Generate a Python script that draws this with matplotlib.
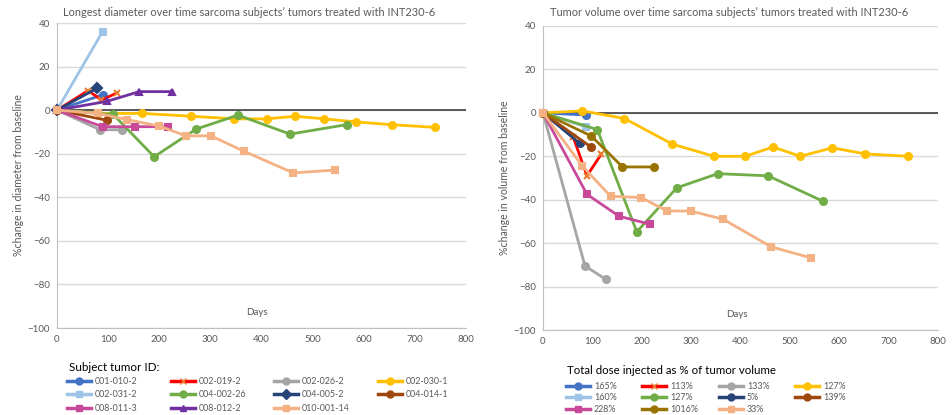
import matplotlib
matplotlib.use("Agg")
import matplotlib.pyplot as plt
from matplotlib.lines import Line2D

plt.rcParams['font.family'] = ['Lato', 'DejaVu Sans']

# Linker Plot: Durchmesser
subject_ids = ['001-010-2', '002-019-2', '002-026-2', '002-030-1', '002-031-2', '004-002-26',
               '004-005-2', '004-014-1', '008-011-3', '008-012-2', '010-001-14']
diam_days = [
    [0, 89],
    [0, 61, 87, 118],
    [0, 84, 127],
    [0, 81, 167, 262, 347, 410, 466, 523, 584, 655, 740],
    [0, 89],
    [0, 110, 190, 272, 354, 456, 568],
    [0, 78],
    [0, 97],
    [0, 89, 153, 217],
    [0, 97, 161, 224],
    [0, 81, 136, 200, 252, 301, 365, 462, 544],
]
diam_change = [
    [0, 7],
    [0, 9, 4.6, 8],
    [0, -9, -9],
    [0, -1.5, -1.5, -2.8, -4, -4, -2.8, -4, -5.4, -6.7, -7.9],
    [0, 36],
    [0, -2, -21.4, -8.7, -2.3, -11, -6.6],
    [0, 10],
    [0, -4.6],
    [0, -7.6, -7.6, -7.6],
    [0, 4, 8.5, 8.5],
    [0, -1.5, -4.3, -7.3, -11.8, -11.8, -18.8, -28.8, -27.5],
]

# Rechter Plot: Volumen
dose_labels = ['165%', '113%', '133%', '127%', '160%', '127%', '5%', '139%', '228%', '1016%', '33%']
vol_days = [
    [0, 88],
    [0, 61, 89, 118],
    [0, 85, 127],
    [0, 80, 165, 262, 346, 410, 466, 521, 586, 653, 740],
    [0, 88],
    [0, 110, 190, 271, 354, 456, 567],
    [0, 74],
    [0, 97],
    [0, 89, 154, 217],
    [0, 98, 161, 224],
    [0, 80, 137, 199, 251, 299, 365, 462, 543],
]
vol_change = [
    [0, -1],
    [0, -11, -29, -19],
    [0, -70.5, -76.6],
    [0, 0.9, -2.6, -14.4, -20, -20, -15.7, -20, -16.1, -18.9, -20],
    [0, -6.5],
    [0, -7.7, -54.8, -34.5, -28, -29, -40.7],
    [0, -14],
    [0, -15.7],
    [0, -37.5, -47.6, -51.3],
    [0, -10.7, -24.9, -24.9],
    [0, -24.6, -38.4, -39, -45.2, -45.2, -49, -61.7, -66.8],
]

# Stile (Excel-Farben): Linie, Marker, Markerfarbe
diam_styles = [
    ('#4472C4', 'o', '#4472C4'),
    ('#FF0000', 'x', '#ED7D31'),
    ('#A5A5A5', 'o', '#A5A5A5'),
    ('#FFC000', 'o', '#FFC000'),
    ('#9DC3E6', 's', '#9DC3E6'),
    ('#70AD47', 'o', '#70AD47'),
    ('#264478', 'D', '#264478'),
    ('#9E480E', 'o', '#9E480E'),
    ('#C8499A', 's', '#C8499A'),
    ('#7030A0', '^', '#7030A0'),
    ('#F4B183', 's', '#F4B183'),
]
vol_styles = [
    ('#4472C4', 'o', '#4472C4'),
    ('#FF0000', 'x', '#ED7D31'),
    ('#A5A5A5', 'o', '#A5A5A5'),
    ('#FFC000', 'o', '#FFC000'),
    ('#9DC3E6', 's', '#9DC3E6'),
    ('#70AD47', 'o', '#70AD47'),
    ('#264478', 'o', '#264478'),
    ('#9E480E', 'o', '#9E480E'),
    ('#C8499A', 's', '#C8499A'),
    ('#997300', 'o', '#997300'),
    ('#F4B183', 's', '#F4B183'),
]

grau = '#595959'
W, H = 953, 415
fig = plt.figure(figsize=(W / 100, H / 100), dpi=100)
ax1 = fig.add_axes([57 / W, 1 - 328 / H, 409 / W, 305 / H])
ax2 = fig.add_axes([543 / W, 1 - 330 / H, 395 / W, 304 / H])


def achse_stylen(ax, ylabel):
    ax.set_xlim(0, 800)
    ax.set_ylim(-100, 40)
    ax.set_xticks(range(0, 801, 100))
    ax.set_yticks(range(-100, 41, 20))
    ax.grid(axis='y', color='#D9D9D9', lw=1)
    ax.set_axisbelow(True)
    for s in ['top', 'right']:
        ax.spines[s].set_visible(False)
    ax.spines['left'].set_color('#BFBFBF')
    ax.spines['bottom'].set_color('#BFBFBF')
    ax.tick_params(length=0, colors=grau, labelsize=7, pad=5)
    ax.axhline(0, color='#404040', lw=1.2, zorder=1.5)
    ax.text(0.49, 0.035, 'Days', transform=ax.transAxes, ha='center', va='bottom',
            color=grau, fontsize=7)
    ax.set_ylabel(ylabel, color=grau, fontsize=7.6, labelpad=3)


def serien_zeichnen(ax, days, vals, styles):
    handles = []
    for d, v, (c, m, mc) in zip(days, vals, styles):
        h, = ax.plot(d, v, color=c, lw=2, marker=m, ms=5, mfc=mc, mec=mc, mew=1.5,
                     clip_on=False, zorder=3)
        handles.append(h)
    return handles


achse_stylen(ax1, '%change in diameter from baseline')
achse_stylen(ax2, '%change in volume from baseline')
h1 = serien_zeichnen(ax1, diam_days, diam_change, diam_styles)
h2 = serien_zeichnen(ax2, vol_days, vol_change, vol_styles)

fig.text(249 / W, 1 - 12 / H, 'Longest diameter over time sarcoma subjects\u2019 tumors treated with INT230-6',
         ha='center', va='center', color=grau, fontsize=7.9)
fig.text(729 / W, 1 - 12 / H, 'Tumor volume over time sarcoma subjects\u2019 tumors treated with INT230-6',
         ha='center', va='center', color=grau, fontsize=7.9)

# Legenden, spaltenweise gesetzt
fig.text(69 / W, 1 - 367 / H, 'Subject tumor ID:', ha='left', va='center', fontsize=8.4)
fig.text(567 / W, 1 - 371 / H, 'Total dose injected as % of tumor volume', ha='left', va='center',
         fontsize=8.3)


def legende(handles, labels, x_starts, y_top, spacing):
    for col, x0 in enumerate(x_starts):
        idx = list(range(col, len(labels), 4))
        hs = [Line2D([], [], color=handles[i].get_color(), marker=handles[i].get_marker(), lw=2.5,
                     ms=5, mfc=handles[i].get_mfc(), mec=handles[i].get_mec()) for i in idx]
        fig.legend(hs, [labels[i] for i in idx], loc='upper left',
                   bbox_to_anchor=(x0 / W, 1 - y_top / H), frameon=False, fontsize=6.4,
                   handlelength=2.7, handletextpad=0.45, labelspacing=spacing, borderpad=0,
                   borderaxespad=0, labelcolor=grau)


legende(h1, subject_ids, [67, 171, 274, 378], 377, 0.5)
legende(h2, dose_labels, [566, 642, 719, 795], 382, 0.28)

fig.savefig('out.png', dpi=100)
